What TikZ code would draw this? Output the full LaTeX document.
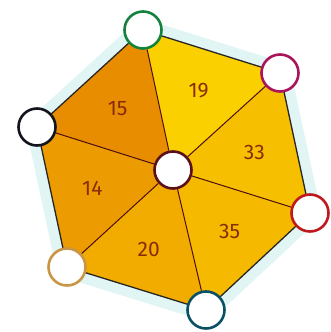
\documentclass[tikz,border=0pt]{standalone}
\usepackage{fontspec}
\setsansfont{Fira Sans}
\usetikzlibrary{backgrounds,calc}
\usepackage{xcolor}
\definecolor{hxgreen}{RGB}{20,130,60}
\definecolor{hxmagenta}{RGB}{170,20,90}
\definecolor{hxblack}{RGB}{20,20,30}
\definecolor{hxmaroon}{RGB}{90,15,25}
\definecolor{hxred}{RGB}{190,25,30}
\definecolor{hxgold}{RGB}{200,150,70}
\definecolor{hxteal}{RGB}{10,80,100}
\definecolor{hxnum}{RGB}{135,45,10}
\definecolor{hxhalo}{RGB}{226,245,245}
\definecolor{fdark}{RGB}{232,140,0}
\definecolor{fyellow}{RGB}{250,208,0}
\definecolor{famber}{RGB}{246,192,0}
\definecolor{fgold}{RGB}{245,186,0}
\definecolor{forange}{RGB}{242,172,0}
\definecolor{fdeep}{RGB}{236,156,0}
\tikzset{
    vertex/.style={
        circle,draw=#1,line width=2.6pt,fill=white,
        minimum size=37pt,inner sep=0pt
    },
    vertex/.default=hxblack,
    spoke/.style={line width=1pt,draw=hxmaroon!85!black},
    rim/.style={line width=1.3pt,draw=black!85,line join=round},
    num/.style={font=\sffamily\fontsize{21}{21}\selectfont,text=hxnum}
}
\begin{document}
\begin{tikzpicture}[x=1pt,y=-1pt]
\useasboundingbox (0,0) rectangle (331,332);

% vertices
\node[vertex=hxgreen] (top) at (143,30) {};
\node[vertex=hxmagenta] (ne) at (280,73) {};
\node[vertex=hxred] (se) at (310,213) {};
\node[vertex=hxteal] (bot) at (206,310) {};
\node[vertex=hxgold] (sw) at (67,267) {};
\node[vertex=hxblack] (nw) at (37,127) {};
\node[vertex=hxmaroon] (mid) at (173,170) {};

\begin{scope}[on background layer]
% faint halo
\fill[hxhalo,draw=hxhalo,line width=22pt,line join=round]
(top.center) -- (ne.center) -- (se.center) -- (bot.center)
-- (sw.center) -- (nw.center) -- cycle;
% triangles
\foreach \a/\b/\col in {nw/top/fdark,top/ne/fyellow,ne/se/famber,
se/bot/fgold,bot/sw/forange,sw/nw/fdeep}
\fill[\col] (\a.center) -- (\b.center) -- (mid.center) -- cycle;
\foreach \v in {top,ne,se,bot,sw,nw}
\draw[spoke] (mid) -- (\v);
\draw[rim] (top.center) -- (ne.center) -- (se.center) -- (bot.center)
-- (sw.center) -- (nw.center) -- cycle;
\end{scope}

% numbers
\foreach \a/\b/\n in {nw/top/15,top/ne/19,ne/se/33,se/bot/35,bot/sw/20,sw/nw/14}
\node[num] (lab\n) at (barycentric cs:\a=1,\b=1,mid=1) {\n};

\end{tikzpicture}
\end{document}
